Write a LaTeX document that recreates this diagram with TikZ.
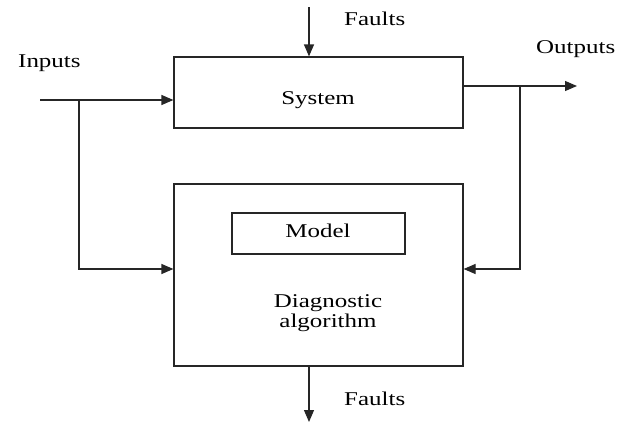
\documentclass[tikz,border=0pt]{standalone}
\usepackage{fontspec}
\setmainfont{Liberation Serif}[FakeStretch=1.28]
\usetikzlibrary{arrows.meta}
\begin{document}
\begin{tikzpicture}[x=1pt,y=-1pt,
  box/.style={draw=black!85, line width=1.2pt, inner sep=0pt},
  lbl/.style={font=\fontsize{19.5}{22}\selectfont, inner sep=0pt, text=black},
  conn/.style={draw=black!85, line width=1.2pt, -{Triangle[length=12pt,width=10pt]}},
  wire/.style={draw=black!85, line width=1.2pt}]
\useasboundingbox (0,0) rectangle (624,423);
% boxes
\node[box, minimum width=289pt, minimum height=71pt] (sys) at (318.5,92.5) {};
\node[box, minimum width=289pt, minimum height=182pt] (diag) at (318.5,275) {};
\node[box, minimum width=173pt, minimum height=41pt] (model) at (318.5,233.5) {};
% texts
\node[lbl, anchor=base] (systxt) at (318,104) {System};
\node[lbl, anchor=base] (modeltxt) at (318,237) {Model};
\node[lbl, anchor=base] (diagA) at (328,307) {Diagnostic};
\node[lbl, anchor=base] (diagB) at (328,327) {algorithm};
\node[lbl, anchor=base west] (faultsTop) at (344,25) {Faults};
\node[lbl, anchor=base west] (inputs) at (18,67) {Inputs};
\node[lbl, anchor=base west] (outputs) at (536,53) {Outputs};
\node[lbl, anchor=base west] (faultsBot) at (344,405) {Faults};
% coordinates
\coordinate (inStart) at (40,100);
\coordinate (inBr) at (79,100);
\coordinate (inDown) at (79,269);
\coordinate (outEnd) at (577,86);
\coordinate (outBr) at (520,86);
\coordinate (outDown) at (520,269);
\coordinate (fTop) at (309,7);
\coordinate (fBot) at (309,422);
% connectors
\draw[conn] (inStart) -- (inStart -| sys.west);
\draw[conn] (inBr) -- (inDown) -- (inDown -| diag.west);
\draw[conn] (outEnd -| sys.east) -- (outEnd);
\draw[conn] (outBr) -- (outDown) -- (outDown -| diag.east);
\draw[conn] (fTop) -- (fTop |- sys.north);
\draw[conn] (fBot |- diag.south) -- (fBot);
\end{tikzpicture}
\end{document}
